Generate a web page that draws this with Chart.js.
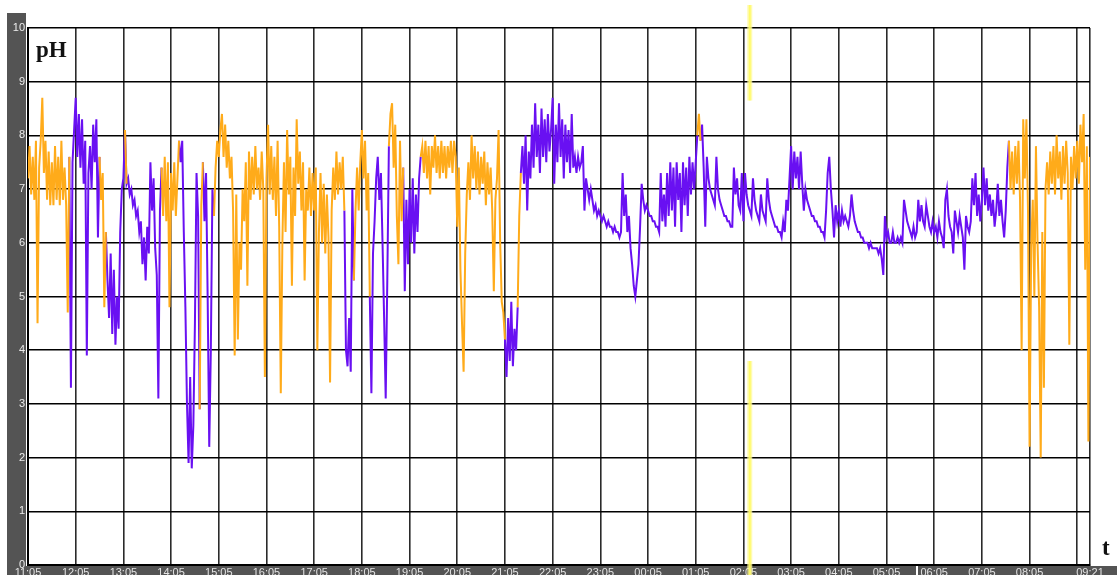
<!DOCTYPE html>
<html>
<head>
<meta charset="utf-8">
<title>pH</title>
<script src="https://cdn.jsdelivr.net/npm/chart.js@4.4.0/dist/chart.umd.min.js"></script>
<style>
  html, body { margin: 0; padding: 0; background: #fff; overflow: hidden; }
  canvas { display: block; }
</style>
</head>
<body>
<canvas id="ph" width="1117" height="575"></canvas>
<script>
// Recording starts at 11:05; one pH sample every 2 minutes (one row per hour).
const startLabel = '11:05';
const stepMinutes = 2;
const ph = [
  7.2,7.8,6.9,7.6,6.8,7.9,4.5,7.4,7.9,8.7,7.3,7.9,6.8,7.7,6.7,7.5,6.7,7.8,6.8,7.6,6.7,7.9,6.8,7.4,6.7,4.7,7.6,3.3,7.5,8.1, // 11:05
  8.7,7.6,8.4,7.4,8.3,7.1,7.9,3.9,7.3,7.8,7.0,8.2,7.5,8.3,6.1,7.6,6.8,7.3,4.8,6.2,5.3,4.6,5.8,4.3,5.5,4.1,5.0,4.4,6.2,7.0, // 12:05
  7.2,8.1,7.1,7.2,6.9,7.0,6.7,6.8,6.5,6.6,6.2,6.4,5.6,6.1,5.3,6.3,5.8,7.5,6.6,7.2,5.9,5.4,3.1,6.6,7.4,6.5,7.6,6.4,7.5,4.8, // 13:05
  7.3,6.6,7.5,6.5,7.2,7.9,7.5,7.9,6.2,4.8,3.0,1.9,3.5,1.8,2.6,4.5,7.3,6.5,2.9,6.7,7.5,6.4,7.3,5.0,2.2,4.0,7.0,6.5,7.4,7.9, // 14:05
  7.6,8.1,8.4,7.6,8.2,7.4,7.9,7.2,7.6,6.6,3.9,6.9,4.2,6.0,5.5,7.0,6.4,7.5,5.2,7.7,6.8,7.6,6.9,7.8,7.0,7.4,6.8,7.7,7.0,3.5, // 15:05
  7.2,8.2,6.9,7.8,6.8,7.6,6.5,7.9,6.3,3.2,6.0,7.5,6.2,8.1,6.9,7.6,5.2,7.4,6.5,8.3,7.1,7.7,6.6,7.5,5.3,7.0,6.6,7.4,6.5,7.3, // 16:05
  6.6,7.4,4.0,6.2,7.3,6.0,7.1,5.8,6.9,6.1,3.4,6.6,7.4,6.8,7.7,6.9,7.5,7.0,7.6,6.6,4.0,3.7,4.6,3.6,7.0,5.3,6.6,7.4,6.6,7.5, // 17:05
  8.1,7.2,7.9,6.6,7.3,5.0,3.2,5.8,6.4,7.2,7.6,6.8,7.3,6.0,4.6,3.1,5.3,7.8,8.4,8.6,7.4,8.2,6.5,5.6,7.9,6.4,7.4,5.1,6.8,5.6, // 18:05
  7.0,6.0,7.2,5.8,6.9,6.2,7.2,7.6,7.8,7.3,7.9,7.2,7.8,6.9,7.8,7.4,8.0,7.3,7.8,7.2,7.9,7.3,7.8,7.2,7.8,7.4,7.9,7.3,7.9,7.6, // 19:05
  6.3,7.4,5.5,4.5,3.6,5.8,6.9,7.5,6.8,8.0,7.2,7.8,7.0,7.7,6.9,7.6,7.1,7.7,6.7,7.5,6.9,7.4,6.6,5.1,6.8,7.2,8.1,6.0,4.9,4.7, // 20:05
  4.2,3.5,4.6,3.8,4.9,3.7,4.4,4.0,4.8,6.5,7.3,7.8,7.1,8.0,6.6,7.7,7.2,8.2,7.4,8.6,7.6,8.2,7.3,8.5,7.6,8.3,7.5,8.4,7.7,8.1, // 21:05
  8.7,7.1,8.2,7.5,8.6,7.6,8.3,7.2,8.2,7.5,8.1,7.3,8.4,7.4,7.6,7.3,7.6,7.4,7.5,7.8,6.6,7.2,7.0,6.8,7.0,6.8,6.6,6.7,6.5,6.6, // 22:05
  6.5,6.4,6.5,6.4,6.3,6.4,6.3,6.3,6.2,6.3,6.2,6.2,6.1,6.2,7.3,6.5,6.9,6.2,6.5,5.9,5.6,5.2,5.0,5.3,5.6,6.3,7.1,6.8,6.6,6.7, // 23:05
  6.6,6.5,6.5,6.4,6.4,6.3,6.3,6.2,7.3,6.4,6.9,6.3,7.3,6.5,7.5,6.6,7.4,6.3,7.5,6.8,7.3,6.2,7.5,6.7,7.4,6.5,7.6,6.9,7.5,7.0, // 00:05
  7.5,8.0,8.4,7.9,8.2,7.4,6.3,7.6,7.2,7.0,6.9,6.8,6.7,7.6,7.0,6.8,6.7,6.6,6.5,6.5,6.4,6.4,6.3,6.3,7.4,6.9,7.2,6.7,6.6,7.3, // 01:05
  6.4,7.3,6.9,6.7,6.6,6.5,7.2,6.8,6.6,6.5,6.4,6.9,6.6,6.5,6.4,7.2,6.8,6.6,6.5,6.4,6.3,6.3,6.2,6.2,6.1,6.4,6.2,6.8,6.6,7.2, // 02:05
  7.8,7.0,7.7,7.2,7.6,7.0,7.7,7.1,6.6,7.0,6.8,6.7,6.6,6.5,6.5,6.4,6.4,6.3,6.3,6.2,6.2,6.1,6.6,7.3,7.6,7.0,6.6,6.1,6.7,6.4, // 03:05
  6.6,6.3,6.6,6.4,6.5,6.4,6.3,6.5,6.9,6.6,6.4,6.3,6.2,6.2,6.1,6.1,6.0,6.0,6.0,5.9,6.0,5.9,5.9,5.9,5.9,5.8,5.9,5.7,5.4,6.5, // 04:05
  6.1,6.2,6.0,6.0,6.2,6.0,6.0,6.1,6.0,6.1,6.0,6.8,6.6,6.4,6.3,6.2,6.1,6.3,6.1,6.2,6.8,6.4,6.7,6.4,6.3,6.7,6.5,6.3,6.2,6.4, // 05:05
  6.2,6.3,6.1,6.4,6.2,6.1,5.9,6.8,7.0,6.5,6.3,6.2,5.8,6.6,6.4,6.2,6.5,6.3,6.1,5.5,6.5,6.3,6.2,6.4,7.2,6.7,7.3,6.5,6.9,6.4, // 06:05
  6.8,7.4,6.7,7.2,6.6,6.9,6.5,6.8,6.3,6.6,7.1,6.5,6.8,6.4,6.1,6.6,7.4,7.9,7.0,7.7,6.9,7.8,7.1,7.9,6.8,4.0,8.3,7.2,8.3,6.6, // 07:05
  2.2,5.9,6.8,5.0,7.8,6.0,4.8,2.0,6.2,3.3,7.0,7.5,6.9,7.7,7.1,7.8,6.9,8.0,7.2,7.7,6.8,7.8,7.1,7.9,7.3,4.1,7.6,7.0,7.8,7.2, // 08:05
  7.9,7.1,8.2,7.5,8.4,5.5,7.8,2.3,7.6                                                                                      // 09:05 - 09:21
];

// Upright periods, in minutes after 11:05 (the rest of the time is lying down).
const uprightStart = [0, 90, 122, 168, 216, 234, 410, 454, 494, 616, 842, 1234];
const uprightEnd   = [50, 96, 122, 188, 218, 396, 428, 470, 598, 618, 844, 1336];

// Time axis: hourly grid, last tick is the end of the recording.
const tickMinutes = [0, 60, 120, 180, 240, 300, 360, 420, 480, 540, 600, 660, 720, 780,
                     840, 900, 960, 1020, 1080, 1140, 1200, 1260, 1320, 1336];
const tickLabels  = ['11:05', '12:05', '13:05', '14:05', '15:05', '16:05', '17:05', '18:05',
                     '19:05', '20:05', '21:05', '22:05', '23:05', '00:05', '01:05', '02:05',
                     '03:05', '04:05', '05:05', '06:05', '07:05', '08:05', '', '09:21'];

// Event marker (yellow line) and the pH range it is hidden behind.
const markerMinute = 908;
const markerGapLow = 3.8;
const markerGapHigh = 8.65;

const endMinute = (ph.length - 1) * stepMinutes;
const minuteOf = i => i * stepMinutes;
const isUpright = t => uprightStart.some((s, k) => t >= s && t <= uprightEnd[k]);

// Each trace keeps one extra sample after its period so the colours join up.
const uprightData = ph.map((v, i) => {
  const t = minuteOf(i);
  const on = isUpright(t) || (i > 0 && isUpright(minuteOf(i - 1)));
  return { x: t, y: on ? v : null };
});
const supineData = ph.map((v, i) => {
  const t = minuteOf(i);
  const on = !isUpright(t) || (i > 0 && !isUpright(minuteOf(i - 1)));
  return { x: t, y: on ? v : null };
});

const BAR = '#545454';

const framePlugin = {
  id: 'frame',
  beforeDraw(chart) {
    const { ctx, width, height, chartArea } = chart;
    ctx.save();
    ctx.fillStyle = '#ffffff';
    ctx.fillRect(0, 0, width, height);
    ctx.fillStyle = BAR;
    // value bar on the left, time bar along the bottom
    ctx.fillRect(7, 13, chartArea.left - 9, height - 13);
    ctx.fillRect(7, chartArea.bottom + 1, width - 7, height - chartArea.bottom - 1);
    ctx.fillStyle = '#ffffff';
    ctx.fillRect(916, chartArea.bottom + 1, 2, height - chartArea.bottom - 1);
    ctx.restore();
  },
  afterDraw(chart) {
    const { ctx, height, scales } = chart;
    const x = scales.x.getPixelForValue(markerMinute);
    const yHigh = scales.y.getPixelForValue(markerGapHigh);
    const yLow = scales.y.getPixelForValue(markerGapLow);
    ctx.save();
    ctx.strokeStyle = 'rgba(255, 250, 150, 0.75)';
    ctx.lineWidth = 5;
    ctx.beginPath();
    ctx.moveTo(x, 5);
    ctx.lineTo(x, yHigh);
    ctx.moveTo(x, yLow);
    ctx.lineTo(x, height);
    ctx.stroke();
    ctx.strokeStyle = 'rgba(255, 250, 90, 0.8)';
    ctx.lineWidth = 2;
    ctx.stroke();

    ctx.fillStyle = '#111';
    ctx.font = 'bold 23px "Liberation Serif", "DejaVu Serif", serif';
    ctx.textBaseline = 'alphabetic';
    ctx.textAlign = 'left';
    ctx.fillText('pH', 36, 57);
    ctx.fillText('t', 1102, 555);
    ctx.restore();
  }
};

new Chart(document.getElementById('ph'), {
  type: 'line',
  data: {
    datasets: [
      {
        label: 'upright',
        data: uprightData,
        borderColor: '#ffab1a',
        borderWidth: 2,
        pointRadius: 0,
        tension: 0,
        spanGaps: false
      },
      {
        label: 'supine',
        data: supineData,
        borderColor: '#6910f2',
        borderWidth: 2,
        pointRadius: 0,
        tension: 0,
        spanGaps: false
      }
    ]
  },
  options: {
    responsive: false,
    animation: false,
    devicePixelRatio: 1,
    events: [],
    layout: { padding: { top: 28, right: 27, left: 0, bottom: 0 } },
    plugins: { legend: { display: false }, tooltip: { enabled: false } },
    scales: {
      x: {
        type: 'linear',
        min: 0,
        max: endMinute,
        afterBuildTicks: s => { s.ticks = tickMinutes.map(v => ({ value: v })); },
        afterFit: s => { s.height = 10; },
        grid: { color: '#2a2a2a', lineWidth: 1.6, drawTicks: false },
        border: { color: '#000', width: 2 },
        ticks: {
          autoSkip: false,
          maxRotation: 0,
          padding: 1,
          color: '#e4e4e4',
          font: { family: '"Liberation Sans", Arial, sans-serif', size: 11 },
          callback: (v, i) => tickLabels[i]
        }
      },
      y: {
        min: 0,
        max: 10,
        afterFit: s => { s.width = 28; },
        grid: { color: '#000', lineWidth: 1.5, drawTicks: false },
        border: { color: '#000', width: 2 },
        ticks: {
          stepSize: 1,
          padding: 3,
          color: '#ececec',
          font: { family: '"Liberation Sans", Arial, sans-serif', size: 11 }
        }
      }
    }
  },
  plugins: [framePlugin]
});
</script>
</body>
</html>
